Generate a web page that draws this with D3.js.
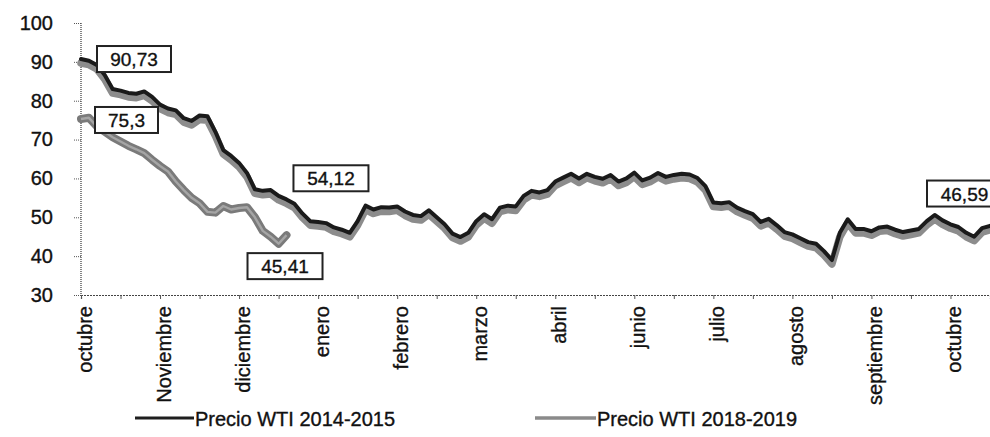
<!DOCTYPE html>
<html>
<head>
<meta charset="utf-8">
<script src="https://cdn.jsdelivr.net/npm/d3@7/dist/d3.min.js"></script>
<style>
  html, body { margin: 0; padding: 0; background: #fff; }
  svg { display: block; }
  text { font-family: "Liberation Sans", Arial, sans-serif; fill: #111; stroke: #111; stroke-width: 0.35px; }
</style>
</head>
<body>
<svg id="chart" width="990" height="437"></svg>
<script>
// ---- data (values every 2 trading days) ----
const monthLabels = ["octubre","Noviembre","diciembre","enero","febrero","marzo","abril","junio","julio","agosto","septiembre","octubre"];
const yTickValues = [30, 40, 50, 60, 70, 80, 90, 100];
const seriesNames = ["Precio WTI 2014-2015", "Precio WTI 2018-2019"];
const wti2014 = [
  90.73, 90.3, 89.2, 86.6, 83.0, 82.6, 82.0, 81.8, 82.4, 81.0,
  79.0, 78.0, 77.5, 75.5, 74.8, 76.2, 76.0, 72.0, 67.3, 65.8,
  64.0, 61.4, 57.2, 56.8, 57.0, 55.5, 54.6, 53.5, 51.0, 49.0,
  48.8, 48.5, 47.4, 46.8, 46.0, 49.0, 53.0, 52.0, 52.6, 52.5,
  52.8, 51.5, 50.6, 50.3, 51.8, 50.0, 48.2, 45.8, 44.9, 46.0,
  49.0, 50.8, 49.5, 52.5, 53.0, 52.8, 55.5, 56.8, 56.4, 57.0,
  59.2, 60.2, 61.2, 60.0, 61.2, 60.4, 59.9, 60.9, 59.2, 60.0,
  61.5, 59.5, 60.2, 61.4, 60.4, 60.9, 61.2, 61.0, 60.1, 58.0,
  53.8, 53.6, 53.9, 52.5, 51.6, 50.8, 48.8, 49.6, 48.0, 46.2,
  45.6, 44.6, 43.6, 43.2, 41.3, 39.0, 46.0, 49.5, 47.0, 47.0,
  46.4, 47.4, 47.6, 46.8, 46.2, 46.6, 47.0, 49.0, 50.6, 49.2,
  48.2, 47.5, 46.0, 45.0, 47.2, 47.8
];
const wti2018 = [
  75.3, 75.6, 73.4, 72.0, 70.6, 69.5, 68.4, 67.5, 66.5, 64.8,
  63.2, 61.8, 59.2, 57.0, 55.0, 53.6, 51.4, 51.2, 52.9, 52.0,
  52.4, 52.6, 50.0, 46.5, 45.0, 43.2, 45.41
];
const annotationLabels = ["90,73", "75,3", "54,12", "45,41", "46,59"];

// ---- layout ----
const svg = d3.select("#chart");
const x = d3.scaleLinear().domain([0, 230]).range([81, 990]);
const y = d3.scaleLinear().domain([30, 100]).range([295, 23]);
const STEP = 2;

// axes
const yAxis = svg.append("g").attr("transform", "translate(81,0)")
  .call(d3.axisLeft(y).tickValues(yTickValues).tickSize(8).tickPadding(20));
yAxis.select(".domain").attr("stroke", "#444").attr("stroke-dasharray", "1,1").attr("stroke-width", 1.3)
  .attr("d", `M0,${y(100)}V${y(30)}`);
yAxis.selectAll(".tick line").attr("stroke", "#555").attr("stroke-dasharray", "1,1");
yAxis.selectAll(".tick text").style("font-size", "20px").attr("fill", "#111");

const xAxis = svg.append("g").attr("transform", `translate(0,${y(30)})`)
  .call(d3.axisBottom(x).tickValues(d3.range(0, 231, 10)).tickSize(4).tickFormat(""));
xAxis.select(".domain").attr("stroke", "#444").attr("stroke-dasharray", "2,1").attr("stroke-width", 1.2);
xAxis.selectAll(".tick line").attr("stroke", "#555");

svg.append("g").selectAll("text").data(monthLabels).join("text")
  .attr("transform", (d, i) => `translate(${x(1 + i * 20) + 7},306) rotate(-90)`)
  .attr("text-anchor", "end")
  .style("font-size", "20px")
  .text(d => d);

// lines
const line = d3.line().x((d, i) => x(i * STEP)).y(d => y(d));

// 2018-2019 (gray)
svg.append("path").datum(wti2018).attr("d", line)
  .attr("fill", "none").attr("stroke", "#7a7a7a").attr("stroke-width", 8)
  .attr("stroke-linejoin", "round").attr("stroke-linecap", "round");
svg.append("path").datum(wti2018).attr("d", line)
  .attr("fill", "none").attr("stroke", "#a5a5a5").attr("stroke-width", 2.4)
  .attr("stroke-linejoin", "round");

// 2014-2015 (dark with gray shadow)
svg.append("path").datum(wti2014).attr("d", line)
  .attr("transform", "translate(0,4)")
  .attr("fill", "none").attr("stroke", "#8c8c8c").attr("stroke-width", 7.5)
  .attr("stroke-linejoin", "round").attr("stroke-linecap", "round");
svg.append("path").datum(wti2014).attr("d", line)
  .attr("fill", "none").attr("stroke", "#1a1a1a").attr("stroke-width", 4)
  .attr("stroke-linejoin", "round").attr("stroke-linecap", "round");

// annotation boxes
const lastA = (wti2014.length - 1) * STEP;
const lastB = (wti2018.length - 1) * STEP;
const boxes = [
  { t: annotationLabels[0], bx: x(0) + 16, cy: y(wti2014[0]), w: 74 },
  { t: annotationLabels[1], bx: x(0) + 14, cy: y(wti2018[0]) + 1, w: 63 },
  { t: annotationLabels[2], bx: x(53) + 3, cy: y(54.12) - 23, w: 75 },
  { t: annotationLabels[3], bx: x(lastB) - 39, cy: y(wti2018[wti2018.length - 1]) + 31, w: 75 },
  { t: annotationLabels[4], bx: x(lastA) - 63, cy: y(46.59) - 37, w: 75 }
];
const bg = svg.append("g").selectAll("g").data(boxes).join("g");
bg.append("rect")
  .attr("x", d => d.bx).attr("y", d => d.cy - 13).attr("width", d => d.w).attr("height", 26)
  .attr("fill", "#fff").attr("stroke", "#222").attr("stroke-width", 2);
bg.append("text")
  .attr("x", d => d.bx + d.w / 2).attr("y", d => d.cy + 7)
  .attr("text-anchor", "middle").style("font-size", "19px")
  .text(d => d.t);

// legend
const legend = svg.append("g");
legend.append("line").attr("x1", 135).attr("x2", 194).attr("y1", 418).attr("y2", 418)
  .attr("stroke", "#1e1e1e").attr("stroke-width", 3);
legend.append("text").attr("x", 195).attr("y", 426).style("font-size", "20px").text(seriesNames[0]);
legend.append("line").attr("x1", 535).attr("x2", 596).attr("y1", 418).attr("y2", 418)
  .attr("stroke", "#8a8a8a").attr("stroke-width", 3.5);
legend.append("text").attr("x", 597).attr("y", 426).style("font-size", "20px").text(seriesNames[1]);
</script>
</body>
</html>
